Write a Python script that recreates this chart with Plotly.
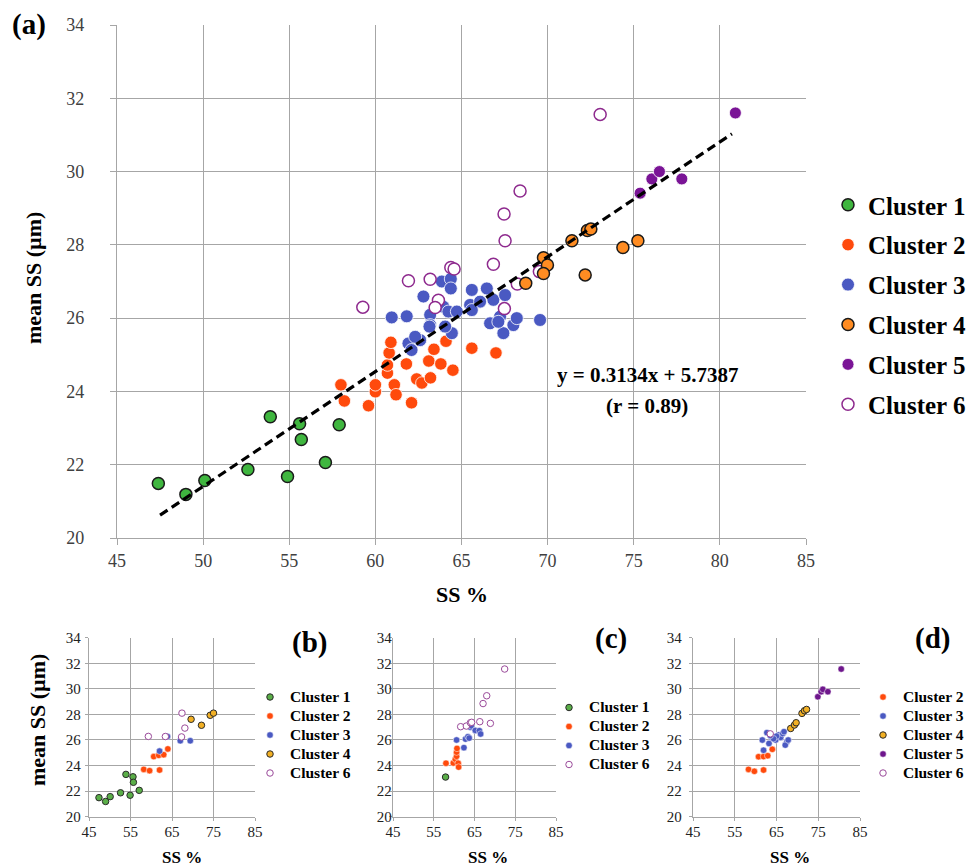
import plotly.graph_objects as go

# page is 976x868; the html body adds an 8px margin, so the figure itself is 968x860
PAGE_OFF = 8
W, H = 968, 860

# ---------------- data: main panel (a) ----------------
c1_x = [47.4, 49.0, 50.1, 52.6, 53.9, 55.6, 55.7, 54.9, 57.1, 57.9]
c1_y = [21.49, 21.19, 21.57, 21.87, 23.31, 23.12, 22.69, 21.68, 22.06, 23.09]

c2_x = [58.0, 58.2, 59.6, 60.0, 60.0, 60.7, 60.7, 60.8, 60.9, 61.1, 61.2, 61.8,
        62.1, 62.4, 62.7, 63.2, 63.1, 63.4, 63.8, 64.1, 64.5, 65.6, 67.0]
c2_y = [24.18, 23.74, 23.61, 23.99, 24.18, 24.50, 24.72, 25.05, 25.34, 24.18, 23.91, 24.75,
        23.69, 24.34, 24.23, 24.37, 24.83, 25.15, 24.75, 25.37, 24.58, 25.18, 25.05]

c3_x = [60.95, 61.82, 62.79, 63.18, 63.18, 63.86, 64.38, 64.38, 63.95, 64.24, 64.73,
        64.44, 64.05, 61.92, 62.60, 62.31, 62.10, 65.60, 66.47, 65.50, 66.08, 66.85,
        67.53, 65.60, 66.66, 67.24, 68.01, 67.43, 68.21, 69.56, 67.14, 63.14]
c3_y = [26.02, 26.05, 26.59, 26.09, 25.81, 27.00, 27.07, 26.81, 26.31, 26.18, 26.18,
        25.59, 25.77, 25.31, 25.40, 25.49, 25.13, 26.77, 26.81, 26.36, 26.45, 26.50,
        26.63, 26.22, 25.86, 26.04, 25.81, 25.59, 26.00, 25.95, 25.90, 25.77]

c4_x = [68.73, 69.76, 69.99, 69.76, 71.41, 72.31, 72.51, 72.18, 74.37, 75.24]
c4_y = [26.95, 27.65, 27.45, 27.22, 28.11, 28.39, 28.43, 27.18, 27.93, 28.11]

c5_x = [75.37, 76.05, 76.49, 77.79, 80.9]
c5_y = [29.41, 29.80, 30.00, 29.80, 31.60]

c6_x = [59.27, 61.92, 63.18, 64.38, 64.57, 63.66, 63.47, 66.85, 67.49, 68.24,
        69.52, 67.53, 67.47, 68.40, 73.05]
c6_y = [26.30, 27.02, 27.06, 27.38, 27.34, 26.49, 26.29, 27.47, 26.26, 26.93,
        27.27, 28.11, 28.84, 29.47, 31.56]

# regression line given on the chart
slope, intercept = 0.3134, 5.7387
fit_x = [47.5, 80.7]

# ---------------- data: panel (b) ----------------
b1_x = [47.4, 49.0, 50.1, 52.6, 53.9, 55.6, 55.7, 54.9, 57.1]
b1_y = [21.49, 21.19, 21.57, 21.87, 23.31, 23.12, 22.69, 21.68, 22.06]
b2_x = [58.2, 59.6, 60.6, 61.8, 62.0, 63.0, 64.0]
b2_y = [23.70, 23.60, 24.70, 24.80, 23.65, 24.85, 25.30]
b3_x = [62.0, 63.9, 67.0, 69.4]
b3_y = [25.13, 26.28, 25.94, 25.94]
b4_x = [69.6, 72.1, 74.2, 75.0]
b4_y = [27.62, 27.15, 27.93, 28.10]
b6_x = [59.3, 63.4, 67.4, 68.1, 67.3]
b6_y = [26.28, 26.27, 28.10, 26.93, 26.24]

# ---------------- data: panel (c) ----------------
cc1_x = [57.9]
cc1_y = [23.10]
cc2_x = [58.0, 59.8, 60.3, 60.6, 60.6, 60.7, 61.0, 61.1]
cc2_y = [24.18, 24.20, 24.50, 24.72, 25.05, 25.34, 24.18, 23.88]
cc3_x = [60.6, 62.4, 62.8, 63.4, 63.7, 64.0, 64.2, 65.2, 66.2, 66.5]
cc3_y = [26.00, 25.40, 26.07, 26.26, 26.15, 26.99, 27.10, 26.75, 26.73, 26.47]
cc6_x = [61.6, 63.0, 64.0, 64.3, 66.3, 67.1, 68.0, 68.9, 72.4]
cc6_y = [27.04, 27.09, 27.35, 27.38, 27.43, 28.85, 29.46, 27.30, 31.55]

# ---------------- data: panel (d) ----------------
d2_x = [58.3, 59.7, 60.7, 61.9, 61.9, 62.9, 64.0]
d2_y = [23.70, 23.55, 24.69, 24.70, 23.65, 24.77, 25.27]
d3_x = [61.6, 61.9, 62.7, 63.2, 63.9, 64.8, 65.5, 66.0, 66.5, 66.8, 67.5, 67.1,
        67.8, 65.0, 64.3, 63.5]
d3_y = [26.00, 25.20, 26.57, 25.73, 26.17, 26.00, 26.39, 26.20, 26.50, 26.65, 25.87,
        25.60, 26.00, 26.30, 26.10, 26.35]
d4_x = [68.4, 69.3, 69.7, 71.1, 71.7, 72.2]
d4_y = [26.90, 27.17, 27.35, 28.08, 28.29, 28.39]
d5_x = [74.9, 75.7, 76.1, 77.3, 80.5]
d5_y = [29.38, 29.78, 29.96, 29.78, 31.55]
d6_x = [63.5]
d6_y = [26.48]

x_ticks = [45, 50, 55, 60, 65, 70, 75, 80, 85]
x_ticks_small = [45, 55, 65, 75, 85]
y_ticks = [20, 22, 24, 26, 28, 30, 32, 34]

# ---------------- styles ----------------
FONT = "Liberation Serif"
GRID = "#a6a6a6"

STY = {
    1: dict(color="#3fb63f", line=dict(color="#1a1a1a", width=1.5)),
    2: dict(color="#ff4a0c", line=dict(color="#ffffff", width=0.8)),
    3: dict(color="#4a59c2", line=dict(color="#ffffff", width=0.8)),
    4: dict(color="#ff8c22", line=dict(color="#1a1a1a", width=1.5)),
    5: dict(color="#7a1496", line=dict(color="#ffffff", width=0.8)),
    6: dict(color="#ffffff", line=dict(color="#8e2a8e", width=1.5)),
}
STY_S = {
    1: dict(color="#5aae48", line=dict(color="#2a2a2a", width=1)),
    2: dict(color="#ff4a0c", line=dict(color="#ffffff", width=0.5)),
    3: dict(color="#4a59c2", line=dict(color="#ffffff", width=0.5)),
    4: dict(color="#f2b024", line=dict(color="#2a2a2a", width=1)),
    5: dict(color="#6e168c", line=dict(color="#ffffff", width=0.5)),
    6: dict(color="#ffffff", line=dict(color="#9a4a9a", width=1)),
}
SIZE = {1: 12, 2: 12.5, 3: 13, 4: 12, 5: 12, 6: 12}

fig = go.Figure()


def add(x, y, k, xa, ya, legend, size, style, lab_px=None):
    name = f"Cluster {k}"
    if lab_px:
        name = f'<span style="font-size:{lab_px}px">Cluster {k}</span>'
    fig.add_trace(go.Scatter(
        x=x, y=y, mode="markers", name=name, xaxis=xa, yaxis=ya,
        legend=legend, legendgroup=f"{legend}_{k}", legendrank=k,
        marker=dict(size=size, symbol="circle", **style[k]),
        hoverinfo="x+y",
    ))


main = [(c1_x, c1_y, 1), (c2_x, c2_y, 2), (c3_x, c3_y, 3), (c4_x, c4_y, 4),
        (c5_x, c5_y, 5), (c6_x, c6_y, 6)]
# draw order: 1,2,3,6,4,5 roughly like the reference
for x, y, k in [main[0], main[1], main[2], main[5], main[3], main[4]]:
    add(x, y, k, "x", "y", "legend", SIZE[k], STY)

fig.add_trace(go.Scatter(
    x=fit_x, y=[slope * v + intercept for v in fit_x], mode="lines",
    line=dict(color="black", width=3.2, dash="9px,5px"),
    showlegend=False, xaxis="x", yaxis="y", hoverinfo="skip"))

for x, y, k in [(b1_x, b1_y, 1), (b2_x, b2_y, 2), (b3_x, b3_y, 3), (b4_x, b4_y, 4), (b6_x, b6_y, 6)]:
    add(x, y, k, "x2", "y2", "legend2", 6.5, STY_S, 15.5)
for x, y, k in [(cc1_x, cc1_y, 1), (cc2_x, cc2_y, 2), (cc3_x, cc3_y, 3), (cc6_x, cc6_y, 6)]:
    add(x, y, k, "x3", "y3", "legend3", 6.5, STY_S, 15.5)
for x, y, k in [(d2_x, d2_y, 2), (d3_x, d3_y, 3), (d4_x, d4_y, 4), (d5_x, d5_y, 5), (d6_x, d6_y, 6)]:
    add(x, y, k, "x4", "y4", "legend4", 6.5, STY_S, 15.5)


def px(v):
    # page pixel -> paper fraction
    return (v - PAGE_OFF) / W


def py(v):
    return 1 - (v - PAGE_OFF) / H


def xax(dom, ticks, fs, standoff, tlen, color):
    return dict(domain=dom, range=[45, 85], tickvals=ticks, showgrid=True,
                gridcolor=GRID, gridwidth=1.3, showline=True, linecolor=GRID,
                linewidth=1.3, ticks="outside", ticklen=tlen, tickcolor=GRID,
                tickwidth=1.3, zeroline=False, ticklabelstandoff=standoff,
                automargin=False,
                tickfont=dict(family=FONT, size=fs, color=color), fixedrange=True)


def yax(dom, fs, standoff, tlen, color, anchor):
    return dict(domain=dom, range=[20, 34], tickvals=y_ticks, showgrid=True,
                gridcolor=GRID, gridwidth=1.3, showline=True, linecolor=GRID,
                linewidth=1.3, ticks="outside", ticklen=tlen, tickcolor=GRID,
                tickwidth=1.3, zeroline=False, ticklabelstandoff=standoff,
                automargin=False,
                tickfont=dict(family=FONT, size=fs, color=color), anchor=anchor,
                fixedrange=True)


main_y = [py(538), py(25)]
small_y = [py(816.7), py(637.7)]

small_leg_font = dict(family=FONT, size=11.5, color="black", weight="bold")

fig.update_layout(
    width=W, height=H, autosize=False,
    margin=dict(l=0, r=0, t=0, b=0, autoexpand=False),
    paper_bgcolor="white", plot_bgcolor="white",
    font=dict(family=FONT, color="black"),
    xaxis=xax([px(117), px(806)], x_ticks, 18, 0, 6, "#404040"),
    yaxis=yax(main_y, 18, 22, 6, "#404040", "x"),
    xaxis2=dict(xax([px(89), px(255)], x_ticks_small, 15, -2, 3, "#222"), anchor="y2"),
    yaxis2=yax(small_y, 15, 1, 3, "#222", "x2"),
    xaxis3=dict(xax([px(393), px(556)], x_ticks_small, 15, -2, 3, "#222"), anchor="y3"),
    yaxis3=yax(small_y, 15, -6, 3, "#222", "x3"),
    xaxis4=dict(xax([px(693), px(860)], x_ticks_small, 15, -2, 3, "#222"), anchor="y4"),
    yaxis4=yax(small_y, 15, 4, 3, "#222", "x4"),
    legend=dict(x=px(828), y=py(182), xanchor="left", yanchor="top",
                bgcolor="rgba(0,0,0,0)", borderwidth=0, tracegroupgap=4.4,
                font=dict(family=FONT, size=25, color="black", weight="bold"),
                traceorder="grouped"),
    legend2=dict(x=px(250), y=py(682.5), xanchor="left", yanchor="top",
                 bgcolor="rgba(0,0,0,0)", borderwidth=0, tracegroupgap=0,
                 font=small_leg_font),
    legend3=dict(x=px(549), y=py(693), xanchor="left", yanchor="top",
                 bgcolor="rgba(0,0,0,0)", borderwidth=0, tracegroupgap=0,
                 font=small_leg_font),
    legend4=dict(x=px(863), y=py(682.5), xanchor="left", yanchor="top",
                 bgcolor="rgba(0,0,0,0)", borderwidth=0, tracegroupgap=0,
                 font=small_leg_font),
    showlegend=True,
)


def ann(text, x, y, size, angle=0, weight="bold", color="black"):
    fig.add_annotation(text=text, x=px(x), y=py(y), xref="paper", yref="paper",
                       showarrow=False, textangle=angle, xanchor="center", yanchor="middle",
                       font=dict(family=FONT, size=size, color=color, weight=weight))


ann("(a)", 29, 25, 29)
ann("(b)", 309, 642, 29)
ann("(c)", 611, 638, 29)
ann("(d)", 932, 638, 29)
ann("mean SS (µm)", 33, 278, 22, angle=-90)
ann("SS %", 462, 594, 22)
ann("mean SS (µm)", 37, 720, 22, angle=-90)
ann("SS %", 182, 857, 17)
ann("SS %", 488, 857, 17)
ann("SS %", 790, 857, 17)
ann("y = 0.3134x + 5.7387", 647, 375, 21)
ann("(r = 0.89)", 647, 406, 21)

fig.write_html("out.html")
